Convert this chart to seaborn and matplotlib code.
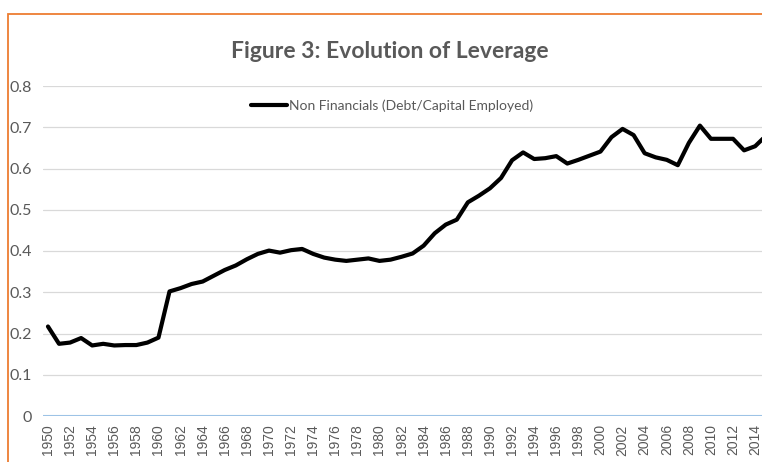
import matplotlib
matplotlib.use("Agg")
import matplotlib.pyplot as plt
import seaborn as sns
import pandas as pd
from matplotlib.patches import Rectangle

# values
years = list(range(1950, 2016))
leverage = [
    0.217, 0.175, 0.178, 0.189, 0.171, 0.175, 0.171, 0.172, 0.172, 0.178,
    0.190, 0.302, 0.310, 0.320, 0.326, 0.340, 0.354, 0.365, 0.380, 0.393,
    0.401, 0.396, 0.402, 0.405, 0.393, 0.384, 0.379, 0.376, 0.379, 0.382,
    0.376, 0.379, 0.386, 0.394, 0.413, 0.443, 0.464, 0.476, 0.518, 0.534,
    0.552, 0.577, 0.620, 0.639, 0.623, 0.625, 0.630, 0.612, 0.621, 0.631,
    0.641, 0.676, 0.696, 0.681, 0.637, 0.627, 0.621, 0.608, 0.662, 0.704,
    0.672, 0.672, 0.672, 0.644, 0.654, 0.680,
]
series_name = "Non Financials (Debt/Capital Employed)"
y_ticks = [0, 0.1, 0.2, 0.3, 0.4, 0.5, 0.6, 0.7, 0.8]
x_ticks = list(range(1950, 2015, 2))

df = pd.DataFrame({"Year": years, "Leverage": leverage})

sns.set_style("white")
plt.rcParams["font.family"] = ["Lato", "DejaVu Sans"]
grey = "#595959"

fig = plt.figure(figsize=(7.62, 4.62), dpi=100)
ax = fig.add_axes([43 / 762, 1 - 416 / 462, 1 - 43 / 762, (416 - 86) / 462])

sns.lineplot(data=df, x="Year", y="Leverage", color="black", linewidth=3,
             label=series_name, ax=ax)

ax.set_ylim(0, 0.8)
ax.set_xlim(1949.55, 2014.62)
ax.set_yticks(y_ticks)
ax.set_yticklabels(["0" if v == 0 else f"{v:.1f}" for v in y_ticks])
ax.set_xticks(x_ticks)
ax.set_xticklabels([str(y) for y in x_ticks], rotation=90,
                   family="Liberation Sans", fontsize=10)
ax.tick_params(axis="y", length=0, pad=8, labelsize=11.5, labelcolor=grey)
ax.tick_params(axis="x", length=0, pad=6, labelcolor=grey)
ax.set_xlabel("")
ax.set_ylabel("")

for v in y_ticks[1:]:
    ax.axhline(v, color="#d9d9d9", linewidth=0.9, zorder=0)
ax.axhline(0, color="#9dc3e6", linewidth=1.5, zorder=1)
for s in ax.spines.values():
    s.set_visible(False)

ax.legend(loc="center", bbox_to_anchor=(392 / 762, 1 - 106 / 462),
          bbox_transform=fig.transFigure, frameon=False, fontsize=10,
          handlelength=2.6, handletextpad=0.15, labelcolor=grey)

fig.text(390 / 762, 1 - 52 / 462, "Figure 3: Evolution of Leverage",
         ha="center", va="center", fontsize=16.5, fontweight="bold", color=grey)

# orange chart border (cropped on right and bottom)
fig.add_artist(Rectangle((8 / 762, -0.1), 1.2, 1.1 - 14 / 462,
                         transform=fig.transFigure, fill=False,
                         edgecolor="#ed7d31", linewidth=1.3))

fig.savefig("out.png", dpi=100)
